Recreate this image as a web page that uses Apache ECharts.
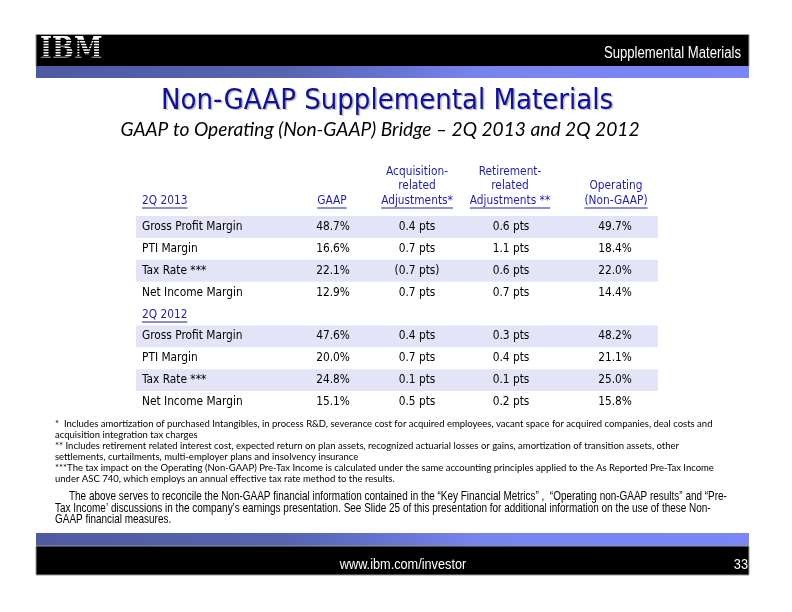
<!DOCTYPE html>
<html><head><meta charset="utf-8">
<script src="https://cdn.jsdelivr.net/npm/echarts@6/dist/echarts.min.js"></script>
<style>html,body{margin:0;padding:0;background:#fff}#c{width:792px;height:612px}</style>
</head><body><div id="c"></div><script>
// ---------- data ----------
const metrics = ['Gross Profit Margin', 'PTI Margin', 'Tax Rate ***', 'Net Income Margin'];
const periods = ['2Q 2013', '2Q 2012'];
const columnHeaders = ['GAAP', 'Acquisition-\nrelated\nAdjustments*', 'Retirement-\nrelated\nAdjustments **', 'Operating\n(Non-GAAP)'];
const gaap2013 = [48.7, 16.6, 22.1, 12.9];
const acq2013 = [0.4, 0.7, -0.7, 0.7];
const ret2013 = [0.6, 1.1, 0.6, 0.7];
const op2013 = [49.7, 18.4, 22.0, 14.4];
const gaap2012 = [47.6, 20.0, 24.8, 15.1];
const acq2012 = [0.4, 0.7, 0.1, 0.5];
const ret2012 = [0.3, 0.4, 0.1, 0.2];
const op2012 = [48.2, 21.1, 25.0, 15.8];
const titleText = 'Non-GAAP Supplemental Materials';
const subtitleText = 'GAAP to Operating (Non-GAAP) Bridge \u2013 2Q 2013 and 2Q 2012';
const headerText = 'Supplemental Materials';
const footerText = 'www.ibm.com/investor';
const pageNumber = '33';
const footnotes = [
  '*  Includes amortization of purchased Intangibles, in process R&D, severance cost for acquired employees, vacant space for acquired companies, deal costs and',
  'acquisition integration tax charges',
  '** Includes retirement related interest cost, expected return on plan assets, recognized actuarial losses or gains, amortization of transition assets, other',
  'settlements, curtailments, multi-employer plans and insolvency insurance',
  '***The tax impact on the Operating (Non-GAAP) Pre-Tax Income is calculated under the same accounting principles applied to the As Reported Pre-Tax Income',
  'under ASC 740, which employs an annual effective tax rate method to the results.'
];
const disclaimer = [
  'The above serves to reconcile the Non-GAAP financial information contained in the \u201cKey Financial Metrics\u201d ,  \u201cOperating non-GAAP results\u201d and \u201cPre-',
  'Tax Income\u2019 discussions in the company\u2019s earnings presentation. See Slide 25 of this presentation for additional information on the use of these Non-',
  'GAAP financial measures.'
];

// ---------- table assembly ----------
const pct = v => v.toFixed(1) + '%';
const pts = v => v < 0 ? '(' + (-v).toFixed(1) + ' pts)' : v.toFixed(1) + ' pts';
const rows = [];
function addBlock(g, a, r, o) {
  metrics.forEach((m, i) => rows.push({ label: m, vals: [pct(g[i]), pts(a[i]), pts(r[i]), pct(o[i])], shaded: i % 2 === 0 }));
}
addBlock(gaap2013, acq2013, ret2013, op2013);
rows.push({ label: periods[1], period: true });
addBlock(gaap2012, acq2012, ret2012, op2012);

// ---------- layout / style ----------
const TABLE_W = 522;
const valueCenters = [197, 281, 375, 479];
const headerCenters = [196, 281, 374, 480];
const tableFont = '"DejaVu Sans Condensed", "DejaVu Sans", sans-serif';
const tableSize = 11.8;
const blue = '#1f1fa8';
const shade = '#e4e4f9';
const measureCtx = document.createElement('canvas').getContext('2d');
function textW(t, size, fam) { measureCtx.font = size + 'px ' + fam; return measureCtx.measureText(t).width; }

function txt(x, y, t, align, fill) {
  return { type: 'text', x: x, y: y, style: { text: t, fill: fill || '#000', font: tableSize + 'px ' + tableFont, align: align, verticalAlign: 'middle' } };
}
function underline(xc, y, t, align) {
  const w = textW(t, tableSize, tableFont);
  const x1 = align === 'left' ? xc : xc - w / 2;
  return { type: 'line', shape: { x1: x1, y1: y, x2: x1 + w, y2: y }, style: { stroke: blue, lineWidth: 1 } };
}

function renderItem(params, api) {
  const i = api.value(1);
  const row = rows[i];
  const p = api.coord([0, i]);
  const band = api.size([0, 1])[1];
  const x0 = p[0], yc = p[1];
  const x1 = api.coord([TABLE_W, i])[0];
  const ch = [];
  if (row.shaded) ch.push({ type: 'rect', shape: { x: x0, y: yc - band / 2, width: x1 - x0, height: band }, style: { fill: shade } });
  const lx = api.coord([6, i])[0];
  if (row.period) {
    ch.push(txt(lx, yc, row.label, 'left', blue));
    ch.push(underline(lx, yc + 7.5, row.label, 'left'));
  } else {
    ch.push(txt(lx, yc, row.label, 'left'));
    row.vals.forEach((v, k) => ch.push(txt(api.coord([valueCenters[k], i])[0], yc, v, 'center')));
  }
  if (i === 0) {
    const hy = yc - band / 2 - 15.5;
    ch.push(txt(lx, hy, periods[0], 'left', blue));
    ch.push(underline(lx, hy + 7.5, periods[0], 'left'));
    columnHeaders.forEach((h, k) => {
      const lines = h.split('\n');
      const cx = api.coord([headerCenters[k], i])[0];
      lines.forEach((ln, j) => {
        const ly = hy - (lines.length - 1 - j) * 14.5;
        ch.push(txt(cx, ly, ln, 'center', blue));
        if (j === lines.length - 1) ch.push(underline(cx, ly + 7.5, ln, 'center'));
      });
    });
  }
  return { type: 'group', children: ch };
}

// ---------- decoration ----------
const bandGrad = new echarts.graphic.LinearGradient(0, 0, 1, 0, [
  { offset: 0, color: '#4e5aa2' }, { offset: 0.35, color: '#5664b0' },
  { offset: 0.5, color: '#6774d2' }, { offset: 0.62, color: '#7884ee' }, { offset: 1, color: '#7a86f6' }
]);
const arial = '"Liberation Sans", Arial, sans-serif';
const NARROW = 0.82;
const calibri = 'Lato, "Open Sans", sans-serif';
const graphics = [
  { type: 'rect', shape: { x: 36, y: 34.5, width: 713, height: 32 }, style: { fill: '#000', stroke: '#9a9a9a', lineWidth: 1 } },
  { type: 'rect', shape: { x: 36, y: 66, width: 713, height: 12 }, style: { fill: bandGrad } },
  { type: 'text', x: 40, y: 50, scaleX: 0.86, style: { text: 'IBM', font: 'bold 30px "DejaVu Serif", serif', fill: '#fff', verticalAlign: 'middle' } },
  { type: 'text', x: 741, y: 54, scaleX: NARROW, style: { text: headerText, font: '16px ' + arial, fill: '#fff', align: 'right', verticalAlign: 'middle' } },
  { type: 'text', x: 387, y: 101, style: { text: titleText, font: '29px "DejaVu Sans Condensed", "DejaVu Sans", sans-serif', fill: '#10109c', align: 'center', verticalAlign: 'middle', textShadowColor: 'rgba(0,0,0,0.28)', textShadowOffsetX: 1.5, textShadowOffsetY: 1.5, textShadowBlur: 1 } },
  { type: 'text', x: 380, y: 130, style: { text: subtitleText, font: 'italic 19.2px ' + calibri, fill: '#000', align: 'center', verticalAlign: 'middle' } },
  { type: 'rect', shape: { x: 36, y: 533, width: 713, height: 13 }, style: { fill: bandGrad } },
  { type: 'rect', shape: { x: 36, y: 546, width: 713, height: 29 }, style: { fill: '#000', stroke: '#9a9a9a', lineWidth: 1 } },
  { type: 'text', x: 403, y: 565, scaleX: NARROW, style: { text: footerText, font: '15.5px ' + arial, fill: '#fff', align: 'center', verticalAlign: 'middle' } },
  { type: 'text', x: 748, y: 565, scaleX: NARROW, style: { text: pageNumber, font: '15.5px ' + arial, fill: '#fff', align: 'right', verticalAlign: 'middle' } }
];
// stripes across logo
for (let k = 0; k < 9; k++) graphics.push({ type: 'rect', shape: { x: 38, y: 39.8 + k * 2.75, width: 68, height: 1.1 }, style: { fill: '#000' } });
footnotes.forEach((t, k) => graphics.push({ type: 'text', x: 55, y: 424 + k * 10.9, style: { text: t, font: '9.5px ' + calibri, fill: '#000', verticalAlign: 'middle' } }));
disclaimer.forEach((t, k) => graphics.push({ type: 'text', x: k === 0 ? 69 : 55, y: 497 + k * 11.5, scaleX: NARROW, style: { text: t, font: '12.15px ' + arial, fill: '#000', verticalAlign: 'middle' } }));

const chart = echarts.init(document.getElementById('c'), null, { renderer: 'canvas' });
chart.setOption({
  animation: false,
  backgroundColor: '#fff',
  grid: { left: 136, top: 216, width: TABLE_W, height: 197 },
  xAxis: { type: 'value', min: 0, max: TABLE_W, show: false },
  yAxis: { type: 'category', data: rows.map((r, i) => String(i)), inverse: true, show: false },
  series: [{ type: 'custom', renderItem: renderItem, data: rows.map((r, i) => [0, i]), encode: { x: 0, y: 1 }, clip: false }],
  graphic: graphics
});
</script></body></html>
